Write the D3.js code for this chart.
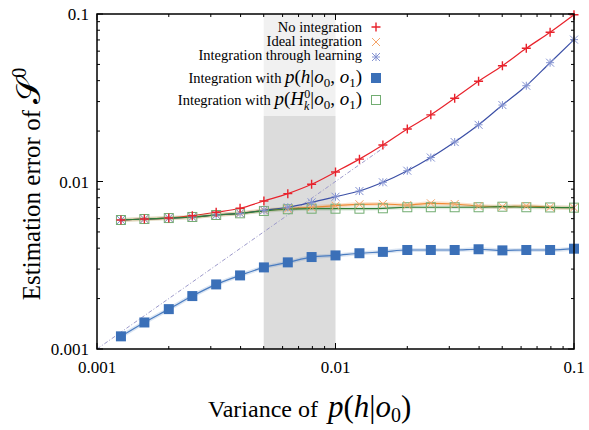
<!DOCTYPE html>
<html>
<head>
<meta charset="utf-8">
<script src="https://cdn.jsdelivr.net/npm/d3@7"></script>
<style>
  body { margin: 0; background: #fff; }
  text { font-family: "Liberation Serif", "DejaVu Serif", serif; }
</style>
</head>
<body>
<script>
// data
var variance = [0.00126, 0.00158, 0.002, 0.00251, 0.00316, 0.00398, 0.00501, 0.00631, 0.00794, 0.01,
                0.0126, 0.0158, 0.02, 0.0251, 0.0316, 0.0398, 0.0501, 0.0631, 0.0794, 0.1];
var noIntegration = [0.00589, 0.00597, 0.00605, 0.00625, 0.00655, 0.00692, 0.00765, 0.00846, 0.00962, 0.0114,
                     0.0136, 0.0165, 0.0206, 0.0250, 0.0314, 0.0397, 0.0491, 0.0624, 0.0778, 0.099];
var idealIntegration = [0.00589, 0.00597, 0.00605, 0.00614, 0.00631, 0.00646, 0.00673, 0.00688, 0.00702, 0.00717,
                        0.00731, 0.00734, 0.00724, 0.00741, 0.00734, 0.00714, 0.00707, 0.00714, 0.00702, 0.00698];
var learning = [0.00589, 0.00597, 0.00605, 0.00614, 0.00631, 0.00646, 0.00673, 0.00702, 0.00751, 0.00811,
                0.00877, 0.00989, 0.0116, 0.0139, 0.0172, 0.0218, 0.0286, 0.0373, 0.0512, 0.0703];
var withPh = [0.00119, 0.00144, 0.00173, 0.00207, 0.00243, 0.00275, 0.00307, 0.00329, 0.00354, 0.00362,
              0.00373, 0.00380, 0.00390, 0.00390, 0.00390, 0.00394, 0.00388, 0.00390, 0.00390, 0.00397];
var withPH = [0.00589, 0.00597, 0.00605, 0.00614, 0.00631, 0.00646, 0.00667, 0.00683, 0.00688, 0.00688,
              0.00688, 0.00692, 0.00702, 0.00702, 0.00702, 0.00702, 0.00707, 0.00702, 0.00700, 0.00698];
var shadeRange = [0.005, 0.01];
var diagonal = [0.001, 0.0162];
var tickValues = [0.001, 0.01, 0.1];
var tickLabels = ["0.001", "0.01", "0.1"];

var width = 589, height = 430;
var plotLeft = 97, plotRight = 574, plotTop = 14, plotBottom = 349;

var svg = d3.select("body").append("svg")
    .attr("width", width)
    .attr("height", height);

var x = d3.scaleLog().domain([0.001, 0.1]).range([plotLeft, plotRight]);
var y = d3.scaleLog().domain([0.001, 0.1]).range([plotBottom, plotTop]);

// shaded band
svg.append("rect")
    .attr("x", x(shadeRange[0]))
    .attr("y", plotTop)
    .attr("width", x(shadeRange[1]) - x(shadeRange[0]))
    .attr("height", plotBottom - plotTop)
    .attr("fill", "#dcdcdc");

// legend background (only visible on the band)
svg.append("rect")
    .attr("x", 170).attr("y", plotTop)
    .attr("width", 215).attr("height", 102)
    .attr("fill", "#fff").attr("opacity", 0.6);

// y = x reference
svg.append("line")
    .attr("x1", x(diagonal[0])).attr("y1", y(diagonal[0]))
    .attr("x2", x(diagonal[1])).attr("y2", y(diagonal[1]))
    .attr("stroke", "#9d9acb")
    .attr("stroke-width", 1)
    .attr("stroke-dasharray", "4,2,1,2");

// ticks (all four sides, pointing in)
var minors = [];
[0.001, 0.01].forEach(function(d) {
    for (var k = 2; k <= 9; k++) minors.push(d * k);
});
var ticks = svg.append("g").attr("stroke", "#000").attr("stroke-width", 1);
function drawTicks(vals, len) {
    vals.forEach(function(v) {
        ticks.append("line").attr("x1", x(v)).attr("x2", x(v)).attr("y1", plotBottom).attr("y2", plotBottom - len);
        ticks.append("line").attr("x1", x(v)).attr("x2", x(v)).attr("y1", plotTop).attr("y2", plotTop + len);
        ticks.append("line").attr("y1", y(v)).attr("y2", y(v)).attr("x1", plotLeft).attr("x2", plotLeft + len);
        ticks.append("line").attr("y1", y(v)).attr("y2", y(v)).attr("x1", plotRight).attr("x2", plotRight - len);
    });
}
drawTicks(minors, 3);
drawTicks(tickValues, 6);

// tick labels
svg.selectAll(".xl").data(tickValues).enter().append("text")
    .attr("x", function(d) { return x(d); })
    .attr("y", 373)
    .attr("text-anchor", "middle")
    .attr("font-size", 17)
    .text(function(d, i) { return tickLabels[i]; });
svg.selectAll(".yl").data(tickValues).enter().append("text")
    .attr("x", 89)
    .attr("y", function(d) { return y(d) + 6; })
    .attr("text-anchor", "end")
    .attr("font-size", 17)
    .text(function(d, i) { return tickLabels[i]; });

// series
var series = [
    {name: "No integration", values: noIntegration, line: "#e8232c", mark: "#e8232c", shape: "plus", halo: 0},
    {name: "Ideal integration", values: idealIntegration, line: "#f08a35", mark: "#f5a468", shape: "cross", halo: 0.25},
    {name: "Integration through learning", values: learning, line: "#3b4fa6", mark: "#8493d2", shape: "star", halo: 0},
    {name: "ph", values: withPh, line: "#4a7cc0", mark: "#3b70b8", shape: "fillsq", halo: 0.2},
    {name: "pH", values: withPH, line: "#2f7d35", mark: "#72ad72", shape: "opensq", halo: 0.15}
];

var line = d3.line()
    .x(function(d, i) { return x(variance[i]); })
    .y(function(d) { return y(d); })
    .curve(d3.curveMonotoneX);

series.forEach(function(s) {
    if (s.halo > 0) {
        svg.append("path").attr("d", line(s.values))
            .attr("fill", "none").attr("stroke", s.line)
            .attr("stroke-width", 4).attr("opacity", s.halo);
    }
    svg.append("path").attr("d", line(s.values))
        .attr("fill", "none").attr("stroke", s.line)
        .attr("stroke-width", 1.2);
});

function marker(g, shape, color, cx, cy) {
    var r = 4.5;
    if (shape == "plus") {
        g.append("path").attr("d", "M" + (cx - r) + "," + cy + "h" + 2 * r + "M" + cx + "," + (cy - r) + "v" + 2 * r)
            .attr("stroke", color).attr("stroke-width", 1.4);
    } else if (shape == "cross") {
        g.append("path").attr("d", "M" + (cx - 4) + "," + (cy - 4) + "l8,8M" + (cx - 4) + "," + (cy + 4) + "l8,-8")
            .attr("stroke", color).attr("stroke-width", 1);
    } else if (shape == "star") {
        g.append("path").attr("d", "M" + (cx - 4) + "," + (cy - 4) + "l8,8M" + (cx - 4) + "," + (cy + 4) + "l8,-8"
            + "M" + (cx - 4) + "," + cy + "h8M" + cx + "," + (cy - 4) + "v8")
            .attr("stroke", color).attr("stroke-width", 1);
    } else if (shape == "fillsq") {
        g.append("rect").attr("x", cx - 5).attr("y", cy - 5).attr("width", 10).attr("height", 10)
            .attr("fill", color);
    } else {
        g.append("rect").attr("x", cx - 4.5).attr("y", cy - 4.5).attr("width", 9).attr("height", 9)
            .attr("fill", "none").attr("stroke", color).attr("stroke-width", 1);
    }
}

var drawOrder = [4, 3, 1, 2, 0];
drawOrder.forEach(function(k) {
    var s = series[k];
    var g = svg.append("g");
    s.values.forEach(function(v, i) { marker(g, s.shape, s.mark, x(variance[i]), y(v)); });
});

// frame
svg.append("rect")
    .attr("x", plotLeft).attr("y", plotTop)
    .attr("width", plotRight - plotLeft).attr("height", plotBottom - plotTop)
    .attr("fill", "none").attr("stroke", "#000").attr("stroke-width", 1.5);

// legend
var lg = svg.append("g");
var legendY = [32, 46, 60, 83, 105];
var textX = 362, symX = 376;
function plain(t, str, size) { return t.append("tspan").attr("font-size", size).text(str); }
function ital(t, str, size) { return t.append("tspan").attr("font-size", size).attr("font-style", "italic").text(str); }

for (var k = 0; k < 3; k++) {
    lg.append("text").attr("x", textX).attr("y", legendY[k]).attr("text-anchor", "end")
        .attr("font-size", 14.5).text(series[k].name);
}
var t4 = lg.append("text").attr("x", textX).attr("y", legendY[3]).attr("text-anchor", "end");
plain(t4, "Integration with ", 14.5);
ital(t4, "p", 19); plain(t4, "(", 19); ital(t4, "h", 19); plain(t4, "|", 19); ital(t4, "o", 19);
plain(t4, "0", 13).attr("dy", 4); plain(t4, ",  ", 19).attr("dy", -4); ital(t4, "o", 19);
plain(t4, "1", 13).attr("dy", 4); plain(t4, ")", 19).attr("dy", -4);

var t5 = lg.append("text").attr("x", textX).attr("y", legendY[4]).attr("text-anchor", "end");
plain(t5, "Integration with ", 14.5);
ital(t5, "p", 19); plain(t5, "(", 19); ital(t5, "H", 19);
ital(t5, "k", 12).attr("dy", 5); plain(t5, "0", 12).attr("dx", -5).attr("dy", -12);
plain(t5, "|", 19).attr("dy", 7); ital(t5, "o", 19);
plain(t5, "0", 13).attr("dy", 4); plain(t5, ",  ", 19).attr("dy", -4); ital(t5, "o", 19);
plain(t5, "1", 13).attr("dy", 4); plain(t5, ")", 19).attr("dy", -4);

var symY = [27, 42, 57, 78, 100];
series.forEach(function(s, i) { marker(lg, s.shape, s.mark, symX, symY[i]); });

// axis titles
var xt = svg.append("text").attr("x", 208).attr("y", 417);
plain(xt, "Variance of ", 24);
ital(xt, "p", 31).attr("dx", 4); plain(xt, "(", 31); ital(xt, "h", 31); plain(xt, "|", 31); ital(xt, "o", 31);
plain(xt, "0", 20).attr("dy", 5); plain(xt, ")", 31).attr("dy", -5);

var yt = svg.append("text")
    .attr("transform", "translate(40,184) rotate(-90)")
    .attr("text-anchor", "middle");
plain(yt, "Estimation error of  ", 25);
plain(yt, "\uD835\uDCAE", 34);
plain(yt, "0", 20).attr("dy", -14);
</script>
</body>
</html>
